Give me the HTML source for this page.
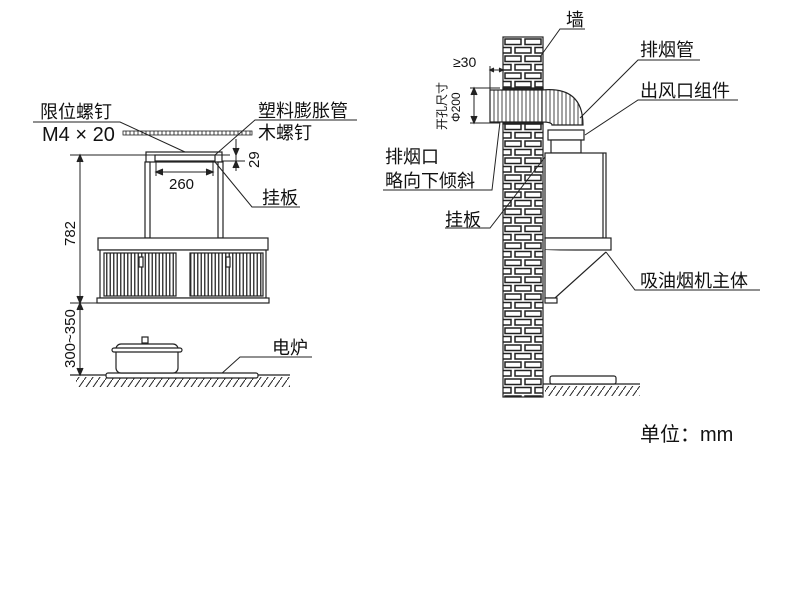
<!DOCTYPE html>
<html><head><meta charset="utf-8"><style>
html,body{margin:0;padding:0;background:#fff;}
svg{display:block;}
text{font-family:"Liberation Sans","Noto Sans CJK SC",sans-serif;fill:#111;}
</style></head><body>
<svg width="790" height="613" viewBox="0 0 790 613" xmlns="http://www.w3.org/2000/svg">
<defs>
<pattern id="brick" x="503" y="37" width="40" height="17" patternUnits="userSpaceOnUse">
<rect width="40" height="17" fill="#fff"/>
<rect x="2" y="2" width="16" height="5.5" fill="none" stroke="#222" stroke-width="1.5"/>
<rect x="22" y="2" width="16" height="5.5" fill="none" stroke="#222" stroke-width="1.5"/>
<rect x="-8" y="10.5" width="16" height="5.5" fill="none" stroke="#222" stroke-width="1.5"/>
<rect x="12" y="10.5" width="16" height="5.5" fill="none" stroke="#222" stroke-width="1.5"/>
<rect x="32" y="10.5" width="16" height="5.5" fill="none" stroke="#222" stroke-width="1.5"/>
</pattern>
<pattern id="hatch" width="7" height="10" patternUnits="userSpaceOnUse">
<line x1="0" y1="10" x2="7" y2="0" stroke="#222" stroke-width="1"/>
</pattern>
<pattern id="grill" width="3.5" height="10" patternUnits="userSpaceOnUse">
<rect width="3.5" height="10" fill="#fff"/><line x1="1.75" y1="0" x2="1.75" y2="10" stroke="#333" stroke-width="1.4"/>
</pattern>
<pattern id="pipe" width="4" height="10" patternUnits="userSpaceOnUse">
<rect width="4" height="10" fill="#fff"/><line x1="2" y1="0" x2="2" y2="10" stroke="#444" stroke-width="1"/>
</pattern>
</defs>
<g stroke="#222" fill="none" stroke-width="1.2">
<rect x="123" y="131" width="129" height="4" fill="url(#pipe)" stroke-width="0.8"/>
<rect x="146" y="152" width="76" height="10" fill="#fff"/>
<rect x="155" y="155" width="60" height="6"/>
<rect x="145" y="162" width="5" height="76" fill="#fff"/>
<rect x="218" y="162" width="5" height="76" fill="#fff"/>
<rect x="98" y="238" width="170" height="12" fill="#fff"/>
<rect x="100" y="250" width="166" height="48" fill="#fff"/>
<rect x="104" y="253" width="72" height="43" fill="url(#grill)"/>
<rect x="190" y="253" width="73" height="43" fill="url(#grill)"/>
<rect x="139" y="257" width="4" height="10" fill="#fff"/>
<rect x="226" y="257" width="4" height="10" fill="#fff"/>
<rect x="97" y="298" width="172" height="5" fill="#fff"/>
<line x1="70" y1="155" x2="230" y2="155" stroke-width="1"/>
<line x1="70" y1="303" x2="100" y2="303" stroke-width="1"/>
<line x1="80" y1="155" x2="80" y2="375" stroke-width="1"/>
<path d="M77,162 L80,155 L83,162 M77,296 L80,303 L83,296 M77,310 L80,303 L83,310 M77,368 L80,375 L83,368" fill="#222"/>
<line x1="236" y1="139" x2="236" y2="171" stroke-width="1"/>
<line x1="222" y1="161" x2="245" y2="161" stroke-width="1"/>
<path d="M233,148 L236,155 L239,148 M233,168 L236,161 L239,168" fill="#222"/>
<line x1="156" y1="172" x2="213" y2="172" stroke-width="1"/>
<line x1="156" y1="162" x2="156" y2="176" stroke-width="1"/>
<line x1="213" y1="162" x2="213" y2="176" stroke-width="1"/>
<path d="M163,169 L156,172 L163,175 M206,169 L213,172 L206,175" fill="#222"/>
<polyline points="33,122 120,122 185,152" stroke-width="1"/>
<polyline points="357,120 255,120 215,155" stroke-width="1"/>
<polyline points="300,207 252,207 215,162" stroke-width="1"/>
<polyline points="312,357 240,357 220,375" stroke-width="1"/>
<line x1="70" y1="375" x2="290" y2="375"/>
<rect x="76" y="377" width="214" height="10" fill="url(#hatch)" stroke="none"/>
<rect x="106" y="373" width="152" height="5" rx="2" fill="#fff"/>
<rect x="116" y="344" width="62" height="29" rx="5" fill="#fff"/>
<rect x="112" y="348" width="70" height="4" rx="2" fill="#fff"/>
<rect x="142" y="337" width="6" height="6" fill="#fff"/>
<rect x="503" y="37" width="40" height="360" fill="url(#brick)"/>
<rect x="503" y="88" width="40" height="4" fill="#222"/>
<rect x="503" y="118" width="40" height="6" fill="#222"/>
<rect x="490" y="90" width="52" height="32" fill="url(#pipe)"/>
<path d="M542,90 Q583,86 583,125 L552,125 Q552,122 542,122 Z" fill="url(#pipe)"/>
<rect x="548" y="130" width="36" height="10" fill="#fff"/>
<rect x="551" y="140" width="30" height="13" fill="#fff"/>
<rect x="545" y="153" width="61" height="85" fill="#fff"/>
<line x1="603" y1="153" x2="603" y2="238"/>
<rect x="545" y="238" width="66" height="12" fill="#fff"/>
<path d="M545,250 L545,298 L555,298 L606,252" fill="#fff"/>
<rect x="545" y="298" width="12" height="5" fill="#fff"/>
<line x1="543" y1="384" x2="640" y2="384"/>
<rect x="545" y="386" width="95" height="10" fill="url(#hatch)" stroke="none"/>
<rect x="550" y="376" width="66" height="8" rx="2" fill="#fff"/>
<line x1="490" y1="66" x2="490" y2="92" stroke-width="1"/>
<line x1="490" y1="70" x2="503" y2="70" stroke-width="1"/>
<path d="M494,68 L490,70 L494,72 M499,68 L503,70 L499,72" fill="#222"/>
<line x1="470" y1="88" x2="500" y2="88" stroke-width="1"/>
<line x1="470" y1="123" x2="500" y2="123" stroke-width="1"/>
<line x1="474" y1="88" x2="474" y2="123" stroke-width="1"/>
<path d="M471,95 L474,88 L477,95 M471,116 L474,123 L477,116" fill="#222"/>
<polyline points="585,29 560,29 540,57" stroke-width="1"/>
<polyline points="700,60 638,60 580,118" stroke-width="1"/>
<polyline points="738,100 638,100 585,135" stroke-width="1"/>
<polyline points="383,190 492,190 500,122" stroke-width="1"/>
<polyline points="445,228 490,228 545,157" stroke-width="1"/>
<polyline points="760,290 635,290 606,252" stroke-width="1"/>
</g>
<g font-size="18">
<text x="40" y="118">限位螺钉</text>
<text x="42" y="141" font-size="20">M4 × 20</text>
<text x="258" y="117">塑料膨胀管</text>
<text x="258" y="139">木螺钉</text>
<text x="262" y="204">挂板</text>
<text x="272" y="354">电炉</text>
<text x="566" y="26">墙</text>
<text x="640" y="56">排烟管</text>
<text x="640" y="97">出风口组件</text>
<text x="385" y="163">排烟口</text>
<text x="385" y="187">略向下倾斜</text>
<text x="445" y="226">挂板</text>
<text x="640" y="287">吸油烟机主体</text>
<text x="640" y="441" font-size="20">单位：mm</text>
</g>
<g font-size="15">
<text x="169" y="189">260</text>
<text transform="translate(259,168) rotate(-90)">29</text>
<text transform="translate(75,246) rotate(-90)">782</text>
<text transform="translate(75,368) rotate(-90)">300~350</text>
<text x="453" y="67" font-size="14">≥30</text>
<text transform="translate(446,130) rotate(-90)" font-size="12">开孔尺寸</text>
<text transform="translate(460,122) rotate(-90)" font-size="12">Φ200</text>
</g>
</svg>
</body></html>
